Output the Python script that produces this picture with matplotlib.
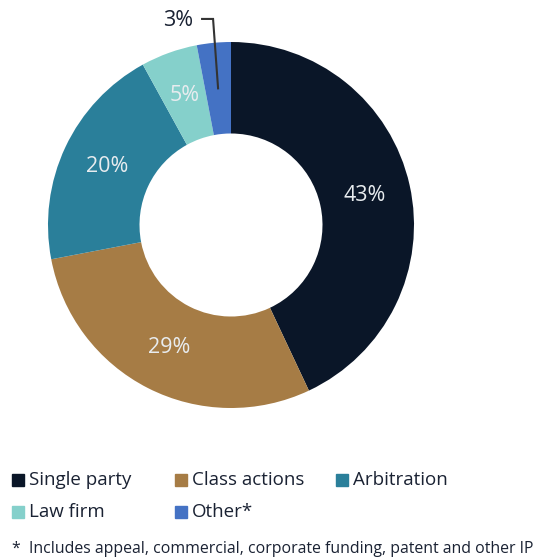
import numpy as np
import matplotlib.pyplot as plt

plt.rcParams['font.family'] = ['Open Sans', 'DejaVu Sans']

# Funding split by case type
categories = ['Single party', 'Class actions', 'Arbitration', 'Law firm', 'Other*']
shares = [43, 29, 20, 5, 3]
colors = ['#0a1628', '#a67c45', '#2a7f9a', '#85d0cb', '#4472c4']
footnote = '*  Includes appeal, commercial, corporate funding, patent and other IP'

W, H = 536, 559
fig = plt.figure(figsize=(W / 100, H / 100), dpi=100)

# ring centre (231, 225) px, outer radius 183 px
cx, cy, R = 231, 225, 183
ax = fig.add_axes([(cx - R) / W, (H - cy - R) / H, 2 * R / W, 2 * R / H])

wedges, _ = ax.pie(shares, colors=colors, startangle=90, counterclock=False,
                   radius=1, wedgeprops=dict(width=0.5, edgecolor='none'))
ax.set_xlim(-1, 1)
ax.set_ylim(-1, 1)
ax.set_aspect('equal')
ax.axis('off')

rlab = 0.75
for w, s in zip(wedges, shares):
    ang = np.deg2rad((w.theta1 + w.theta2) / 2)
    x, y = rlab * np.cos(ang), rlab * np.sin(ang)
    if s < 4:
        # small slice: label above with a leader line
        ax.plot([x, -0.098, -0.158], [y, 1.126, 1.126], color='#333333',
                lw=1.5, clip_on=False, solid_joinstyle='miter')
        ax.text(-0.29, 1.12, f'{s}%', ha='center', va='center',
                fontsize=15.5, color='#1a2233', clip_on=False)
    else:
        ax.text(x, y, f'{s}%', ha='center', va='center', fontsize=15.5,
                color='#e8ecef')

# legend, two rows
pos = [(12, 480), (175, 480), (336, 480), (12, 512), (175, 512)]
for (px, py), lab, c in zip(pos, categories, colors):
    fig.patches.append(plt.Rectangle((px / W, (H - py - 6) / H), 12 / W, 12 / H,
                                     transform=fig.transFigure, color=c))
    fig.text((px + 17) / W, (H - py) / H, lab, ha='left', va='center',
             fontsize=13.5, color='#1a2233')

fig.text(12 / W, (H - 549) / H, footnote, ha='left', va='center',
         fontsize=11.4, color='#1a2233')

fig.savefig('out.png', dpi=100)
